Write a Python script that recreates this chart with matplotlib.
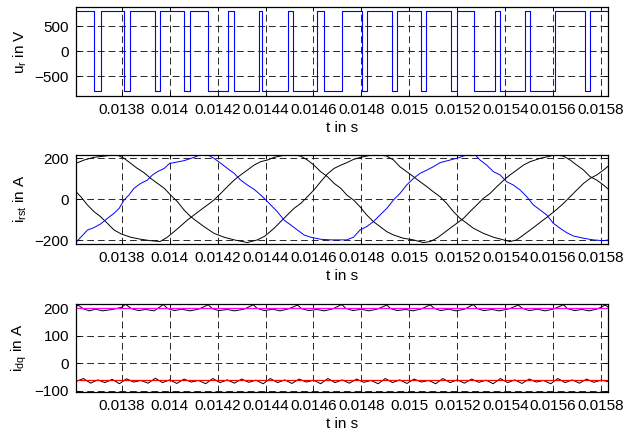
import numpy as np
import matplotlib.pyplot as plt

plt.rcParams['font.family'] = ['Liberation Sans', 'DejaVu Sans']
plt.rcParams['mathtext.fontset'] = 'custom'
plt.rcParams['mathtext.rm'] = 'Liberation Sans'
plt.rcParams['mathtext.it'] = 'Liberation Sans'

# x axis
t_lim = (0.013609, 0.015829)
t_ticks = [0.0138, 0.014, 0.0142, 0.0144, 0.0146, 0.0148, 0.015, 0.0152, 0.0154, 0.0156, 0.0158]
t_labels = ['0.0138', '0.014', '0.0142', '0.0144', '0.0146', '0.0148', '0.015', '0.0152', '0.0154', '0.0156', '0.0158']

# phase voltage u_r: switching instants and levels (step, held until next instant)
u_t = [0.013609, 0.013684, 0.013712, 0.013811, 0.013835, 0.013939, 0.013960, 0.014061, 0.014085,
       0.014161, 0.014244, 0.014270, 0.014373, 0.014387, 0.014495, 0.014516, 0.014616, 0.014642,
       0.014721, 0.014801, 0.014822, 0.014926, 0.014948, 0.015048, 0.015070, 0.015173, 0.015198,
       0.015270, 0.015356, 0.015379, 0.015483, 0.015504, 0.015608, 0.015731, 0.015754, 0.015829]
u_v = [800, -800, 800, -800, 800, -800, 800, -800, 800,
       -800, 800, -800, 800, -800, 800, -800, 800, -800,
       800, -800, 800, -800, 800, -800, 800, -800, 800,
       -800, 800, -800, 800, -800, 800, -800, 800, 800]

# phase currents
ir_t = [0.013609, 0.013657, 0.013684, 0.013712, 0.013740, 0.013768, 0.013789, 0.013810, 0.013830, 0.013851,
        0.013879, 0.013907, 0.013928, 0.013949, 0.013977, 0.014000, 0.014018, 0.014060, 0.014102, 0.014129,
        0.014157, 0.014185, 0.014213, 0.014241, 0.014269, 0.014296, 0.014324, 0.014352, 0.014380, 0.014401,
        0.014422, 0.014449, 0.014477, 0.014505, 0.014533, 0.014561, 0.014589, 0.014630, 0.014672, 0.014714,
        0.014739, 0.014767, 0.014794, 0.014822, 0.014850, 0.014878, 0.014906, 0.014934, 0.014961, 0.014989,
        0.015017, 0.015045, 0.015073, 0.015100, 0.015128, 0.015170, 0.015212, 0.015240, 0.015274, 0.015295,
        0.015323, 0.015351, 0.015379, 0.015406, 0.015434, 0.015462, 0.015490, 0.015518, 0.015546, 0.015573,
        0.015601, 0.015629, 0.015657, 0.015685, 0.015727, 0.015768, 0.015810, 0.015831]
ir_v = [-210, -150, -138, -120, -93, -68, -44, -3, 21, 54,
        78, 94, 119, 135, 151, 176, 179, 189, 205, 218,
        218, 200, 176, 151, 127, 94, 70, 49, 21, -3,
        -28, -60, -101, -125, -150, -174, -185, -195, -198, -198,
        -198, -185, -150, -133, -109, -76, -44, -3, 29, 70,
        102, 127, 143, 159, 179, 192, 205, 218, 218, 192,
        167, 135, 119, 86, 70, 46, 13, -28, -52, -76,
        -117, -141, -163, -179, -190, -198, -202, -198]

is_t = [0.013609, 0.013629, 0.013657, 0.013684, 0.013712, 0.013740, 0.013768, 0.013798, 0.013837, 0.013879,
        0.013921, 0.013960, 0.013990, 0.014018, 0.014046, 0.014074, 0.014102, 0.014129, 0.014157, 0.014185,
        0.014213, 0.014241, 0.014269, 0.014296, 0.014324, 0.014352, 0.014380, 0.014408, 0.014436, 0.014477,
        0.014509, 0.014547, 0.014575, 0.014602, 0.014630, 0.014658, 0.014686, 0.014714, 0.014739, 0.014767,
        0.014794, 0.014822, 0.014850, 0.014878, 0.014906, 0.014934, 0.014975, 0.015017, 0.015059, 0.015087,
        0.015114, 0.015142, 0.015170, 0.015198, 0.015226, 0.015253, 0.015281, 0.015309, 0.015337, 0.015365,
        0.015398, 0.015420, 0.015448, 0.015476, 0.015504, 0.015546, 0.015587, 0.015608, 0.015643, 0.015671,
        0.015699, 0.015727, 0.015754, 0.015782, 0.015810, 0.015831]
is_v = [37, 13, -28, -60, -85, -117, -150, -169, -185, -195,
        -202, -206, -185, -158, -130, -101, -76, -52, -28, -3,
        29, 62, 94, 119, 143, 167, 184, 192, 205, 215,
        218, 211, 192, 167, 135, 111, 78, 54, 21, -3,
        -36, -76, -109, -133, -158, -174, -190, -198, -211, -206,
        -190, -166, -141, -117, -93, -60, -28, 5, 29, 62,
        98, 119, 143, 167, 184, 200, 211, 218, 211, 192,
        167, 143, 111, 94, 70, 49]

it_t = [0.013609, 0.013643, 0.013684, 0.013740, 0.013778, 0.013810, 0.013837, 0.013865, 0.013893, 0.013921,
        0.013949, 0.013977, 0.014004, 0.014032, 0.014060, 0.014088, 0.014115, 0.014143, 0.014185, 0.014227,
        0.014269, 0.014324, 0.014366, 0.014398, 0.014436, 0.014463, 0.014491, 0.014519, 0.014547, 0.014575,
        0.014602, 0.014630, 0.014658, 0.014686, 0.014714, 0.014739, 0.014767, 0.014797, 0.014836, 0.014874,
        0.014906, 0.014934, 0.014961, 0.014989, 0.015017, 0.015045, 0.015073, 0.015100, 0.015128, 0.015156,
        0.015184, 0.015212, 0.015240, 0.015267, 0.015309, 0.015351, 0.015393, 0.015420, 0.015448, 0.015476,
        0.015504, 0.015532, 0.015559, 0.015587, 0.015615, 0.015643, 0.015671, 0.015699, 0.015727, 0.015754,
        0.015782, 0.015810, 0.015831]
it_v = [176, 192, 205, 213, 218, 200, 176, 151, 130, 102,
        78, 54, 21, -11, -52, -85, -109, -133, -166, -185,
        -198, -211, -198, -179, -141, -109, -76, -44, -20, 13,
        46, 86, 124, 151, 167, 179, 195, 205, 215, 218,
        211, 192, 159, 135, 111, 86, 62, 37, 13, -20,
        -60, -93, -117, -141, -166, -185, -198, -206, -198, -174,
        -150, -125, -101, -76, -49, -20, 13, 46, 78, 102,
        119, 143, 163]

# dq currents (measured) and references
id_t = [0.013609, 0.013618, 0.013640, 0.013665, 0.013690, 0.013720, 0.013760, 0.013800, 0.013815, 0.013840,
        0.013870, 0.013900, 0.013935, 0.013974, 0.013990, 0.014020, 0.014050, 0.014085, 0.014120, 0.014161,
        0.014178, 0.014205, 0.014240, 0.014270, 0.014310, 0.014349, 0.014365, 0.014395, 0.014430, 0.014460,
        0.014495, 0.014534, 0.014550, 0.014580, 0.014615, 0.014645, 0.014680, 0.014718, 0.014735, 0.014765,
        0.014800, 0.014830, 0.014865, 0.014906, 0.014922, 0.014950, 0.014985, 0.015015, 0.015050, 0.015087,
        0.015104, 0.015130, 0.015165, 0.015195, 0.015230, 0.015267, 0.015284, 0.015310, 0.015345, 0.015375,
        0.015415, 0.015455, 0.015472, 0.015500, 0.015535, 0.015565, 0.015600, 0.015643, 0.015660, 0.015690,
        0.015720, 0.015750, 0.015785, 0.015817, 0.015829]
id_v = [205, 212, 198, 191, 197, 191, 196, 204, 215, 199,
        192, 196, 191, 214, 200, 192, 197, 191, 197, 213,
        199, 192, 196, 191, 197, 213, 200, 192, 197, 191,
        198, 212, 199, 192, 196, 191, 198, 214, 200, 192,
        197, 191, 197, 212, 199, 192, 196, 191, 198, 213,
        200, 192, 197, 191, 197, 214, 199, 192, 196, 191,
        198, 212, 200, 192, 197, 191, 197, 213, 199, 192,
        196, 191, 198, 212, 205]
iq_t = [0.013609, 0.013640, 0.013670, 0.013700, 0.013730, 0.013760, 0.013790, 0.013820, 0.013850, 0.013880,
        0.013910, 0.013940, 0.013970, 0.014000, 0.014030, 0.014060, 0.014090, 0.014120, 0.014150, 0.014180,
        0.014210, 0.014240, 0.014270, 0.014300, 0.014330, 0.014360, 0.014390, 0.014420, 0.014450, 0.014480,
        0.014510, 0.014540, 0.014570, 0.014600, 0.014630, 0.014660, 0.014690, 0.014720, 0.014750, 0.014780,
        0.014810, 0.014840, 0.014870, 0.014900, 0.014930, 0.014960, 0.014990, 0.015020, 0.015050, 0.015080,
        0.015110, 0.015140, 0.015170, 0.015200, 0.015230, 0.015260, 0.015290, 0.015320, 0.015350, 0.015380,
        0.015410, 0.015440, 0.015470, 0.015500, 0.015530, 0.015560, 0.015590, 0.015620, 0.015650, 0.015680,
        0.015710, 0.015740, 0.015770, 0.015800, 0.015829]
iq_v = [-66, -55, -72, -60, -70, -58, -74, -56, -68, -62,
        -72, -54, -70, -60, -73, -57, -68, -62, -74, -55,
        -70, -60, -72, -57, -69, -61, -74, -55, -70, -60,
        -73, -57, -68, -61, -74, -55, -70, -60, -72, -57,
        -69, -62, -74, -55, -70, -60, -73, -57, -68, -62,
        -74, -55, -70, -60, -72, -57, -69, -61, -74, -55,
        -70, -60, -73, -57, -68, -62, -74, -55, -70, -60,
        -72, -57, -69, -61, -66]
id_ref = 200
iq_ref = -62

fig = plt.figure(figsize=(6.27, 4.36), dpi=100)
ax1 = fig.add_axes([0.1212, 0.7798, 0.8485, 0.2042])
ax2 = fig.add_axes([0.1212, 0.4404, 0.8485, 0.2048])
ax3 = fig.add_axes([0.1212, 0.1016, 0.8485, 0.2012])

ax1.step(u_t, u_v, where='post', color='#0000ff', lw=0.8)
ax2.plot(is_t, is_v, color='k', lw=0.7)
ax2.plot(it_t, it_v, color='k', lw=0.7)
ax2.plot(ir_t, ir_v, color='#0000ff', lw=0.7)
ax3.plot(id_t, id_v, color='k', lw=0.7)
ax3.plot(iq_t, iq_v, color='k', lw=0.7)
ax3.axhline(id_ref, color='#ff00ff', lw=0.9)
ax3.axhline(iq_ref, color='#ff0000', lw=0.9)

ax1.set_ylim(-900, 890)
ax1.set_yticks([-500, 0, 500])
ax1.set_ylabel(r'u$_\mathrm{r}$ in V')
ax2.set_ylim(-218, 218)
ax2.set_yticks([-200, 0, 200])
ax2.set_ylabel(r'i$_\mathrm{rst}$ in A')
ax3.set_ylim(-103, 216)
ax3.set_yticks([-100, 0, 100, 200])
ax3.set_ylabel(r'i$_\mathrm{dq}$ in A')

for ax in (ax1, ax2, ax3):
    ax.set_xlim(*t_lim)
    ax.set_xticks(t_ticks)
    ax.set_xticklabels(t_labels)
    ax.set_xlabel('t in s', fontsize=11, labelpad=3)
    ax.yaxis.label.set_size(11)
    ax.tick_params(direction='in', length=3, width=0.6, labelsize=11, pad=5, top=True, right=True)
    ax.grid(True, color='0.15', lw=0.7, linestyle=(0, (7, 4)))
    for s in ax.spines.values():
        s.set_linewidth(0.9)
    ax.yaxis.set_label_coords(-0.088, 0.5)

fig.savefig('out.png', dpi=100)
